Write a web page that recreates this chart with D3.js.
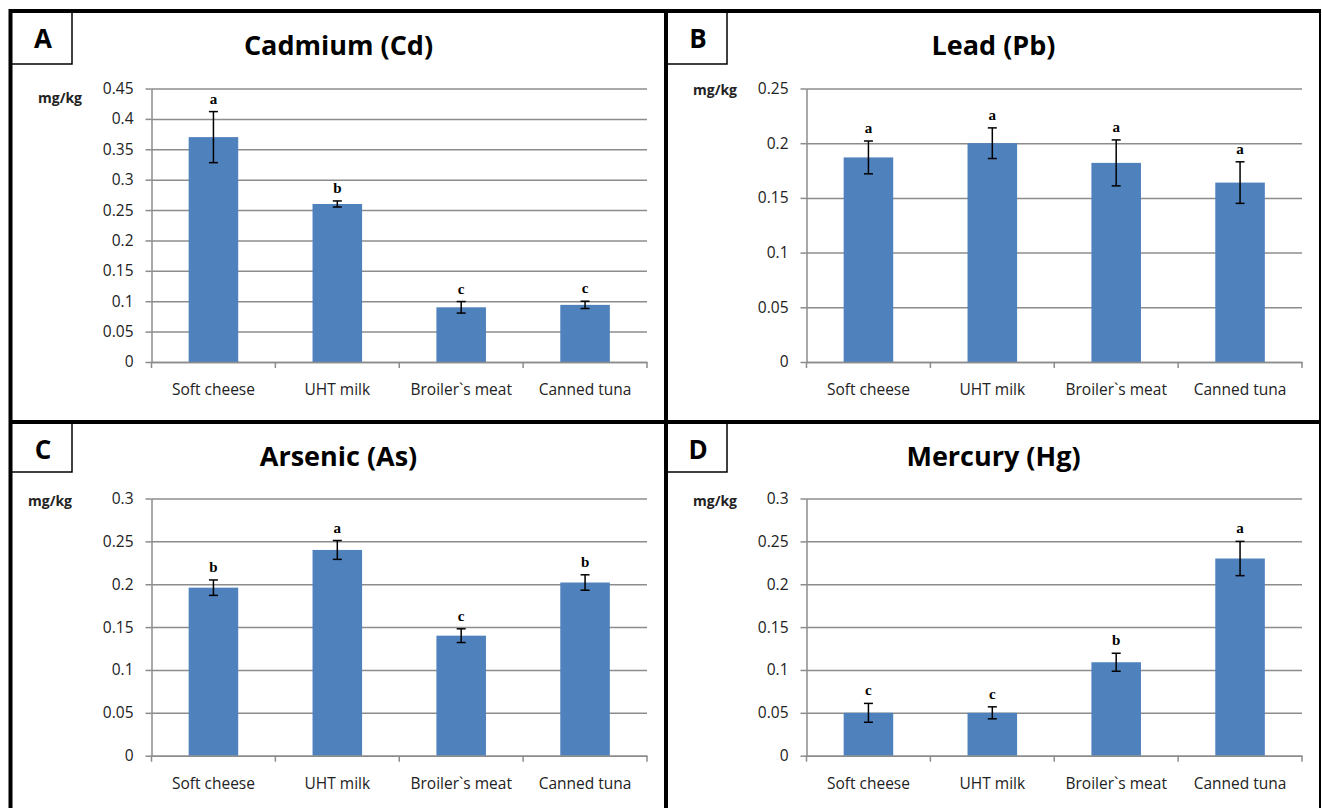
<!DOCTYPE html>
<html>
<head>
<meta charset="utf-8">
<script src="https://cdn.jsdelivr.net/npm/d3@7"></script>
<style>
  body { margin: 0; background: #fff; }
  svg { display: block; font-family: "Open Sans", sans-serif; }
</style>
</head>
<body>
<div id="chart"></div>
<script>
// categories shared by all four panels
const categories = ["Soft cheese", "UHT milk", "Broiler`s meat", "Canned tuna"];

// A - Cadmium
const cdMeans = [0.37, 0.26, 0.09, 0.094];
const cdErrors = [0.042, 0.005, 0.0095, 0.006];
const cdLetters = ["a", "b", "c", "c"];

// B - Lead
const pbMeans = [0.187, 0.2, 0.182, 0.164];
const pbErrors = [0.015, 0.014, 0.021, 0.019];
const pbLetters = ["a", "a", "a", "a"];

// C - Arsenic
const asMeans = [0.196, 0.24, 0.14, 0.202];
const asErrors = [0.009, 0.011, 0.008, 0.009];
const asLetters = ["b", "a", "c", "b"];

// D - Mercury
const hgMeans = [0.05, 0.05, 0.109, 0.23];
const hgErrors = [0.011, 0.007, 0.0105, 0.02];
const hgLetters = ["c", "c", "b", "a"];

// y axis tick labels per panel
const cdTicks = [0, 0.05, 0.1, 0.15, 0.2, 0.25, 0.3, 0.35, 0.4, 0.45];
const pbTicks = [0, 0.05, 0.1, 0.15, 0.2, 0.25];
const asTicks = [0, 0.05, 0.1, 0.15, 0.2, 0.25, 0.3];
const hgTicks = [0, 0.05, 0.1, 0.15, 0.2, 0.25, 0.3];

const width = 1322, height = 808;
const barColor = "#4f81bd", gridColor = "#8c8c8c";

const svg = d3.select("#chart").append("svg")
  .attr("width", width)
  .attr("height", height);

// panel layout (dx = horizontal offset, rows share plot top/bottom)
const panels = [
  { label: "A", title: "Cadmium (Cd)", means: cdMeans, errors: cdErrors, letters: cdLetters, ticks: cdTicks,
    dx: 0, boxTop: 11, boxBottom: 64, titleY: 55, plotTop: 88.5, plotBottom: 362, unitX: 38, unitY: 103 },
  { label: "B", title: "Lead (Pb)", means: pbMeans, errors: pbErrors, letters: pbLetters, ticks: pbTicks,
    dx: 655, boxTop: 11, boxBottom: 64, titleY: 55, plotTop: 88.5, plotBottom: 362, unitX: 38, unitY: 95 },
  { label: "C", title: "Arsenic (As)", means: asMeans, errors: asErrors, letters: asLetters, ticks: asTicks,
    dx: 0, boxTop: 422, boxBottom: 472, titleY: 466, plotTop: 498.5, plotBottom: 755.7, unitX: 28, unitY: 506 },
  { label: "D", title: "Mercury (Hg)", means: hgMeans, errors: hgErrors, letters: hgLetters, ticks: hgTicks,
    dx: 655, boxTop: 422, boxBottom: 472, titleY: 466, plotTop: 498.5, plotBottom: 755.7, unitX: 38, unitY: 506 }
];

panels.forEach(p => {
  const g = svg.append("g").attr("transform", `translate(${p.dx},0)`);
  const left = 151.5, right = 647;

  const x = d3.scaleBand().domain(categories).range([left, right]).padding(0);
  const y = d3.scaleLinear().domain([0, d3.max(p.ticks)]).range([p.plotBottom, p.plotTop]);

  // label box
  g.append("rect")
    .attr("x", 11).attr("y", p.boxTop)
    .attr("width", 61).attr("height", p.boxBottom - p.boxTop)
    .attr("fill", "none").attr("stroke", "#000").attr("stroke-width", 1.5);
  g.append("text")
    .attr("x", 43).attr("y", p.boxTop + 37)
    .attr("text-anchor", "middle")
    .attr("font-size", 26).attr("font-weight", 700)
    .text(p.label);

  // title
  g.append("text")
    .attr("x", 338.5).attr("y", p.titleY)
    .attr("text-anchor", "middle")
    .attr("font-size", 27).attr("font-weight", 700)
    .text(p.title);

  // unit label
  g.append("text")
    .attr("x", p.unitX).attr("y", p.unitY)
    .attr("font-size", 14).attr("font-weight", 700).attr("fill", "#222")
    .text("mg/kg");

  // gridlines
  g.append("g")
    .attr("transform", `translate(${left},0)`)
    .call(d3.axisLeft(y).tickValues(p.ticks).tickSize(-(right - left)).tickFormat(""))
    .call(a => a.select(".domain").remove())
    .call(a => a.selectAll("line").attr("stroke", gridColor).attr("stroke-width", 1.5));

  // y axis
  g.append("g")
    .attr("transform", `translate(${left},0)`)
    .call(d3.axisLeft(y).tickValues(p.ticks).tickSize(6).tickSizeOuter(0).tickPadding(12)
      .tickFormat(d => String(+d.toFixed(2))))
    .call(a => a.select(".domain").attr("stroke", gridColor).attr("stroke-width", 1.5))
    .call(a => a.selectAll("line").attr("stroke", gridColor).attr("stroke-width", 1.5))
    .call(a => a.selectAll("text").attr("font-family", "Open Sans").attr("font-size", 15.5).attr("fill", "#222"));

  // bars
  g.selectAll("rect.bar")
    .data(categories)
    .join("rect")
    .attr("class", "bar")
    .attr("x", d => x(d) + x.bandwidth() * 0.3)
    .attr("width", x.bandwidth() * 0.4)
    .attr("y", (d, i) => y(p.means[i]))
    .attr("height", (d, i) => y(0) - y(p.means[i]))
    .attr("fill", barColor);

  // x axis
  g.append("g")
    .attr("transform", `translate(0,${p.plotBottom})`)
    .call(d3.axisBottom(x).tickSize(0).tickSizeOuter(0).tickPadding(22))
    .call(a => a.select(".domain").attr("stroke", gridColor).attr("stroke-width", 1.5))
    .call(a => a.selectAll("text").attr("font-family", "Open Sans").attr("font-size", 15.5).attr("fill", "#222"));

  // boundary ticks on x axis
  g.selectAll("line.xtick")
    .data(categories.map(c => x(c)).concat([right]))
    .join("line")
    .attr("class", "xtick")
    .attr("x1", d => d).attr("x2", d => d)
    .attr("y1", p.plotBottom).attr("y2", p.plotBottom + 6)
    .attr("stroke", gridColor).attr("stroke-width", 1.5);

  // error bars
  const err = g.selectAll("g.err")
    .data(categories)
    .join("g")
    .attr("class", "err")
    .attr("stroke", "#000").attr("stroke-width", 1.5);
  err.append("line")
    .attr("x1", d => x(d) + x.bandwidth() / 2).attr("x2", d => x(d) + x.bandwidth() / 2)
    .attr("y1", (d, i) => y(p.means[i] + p.errors[i]))
    .attr("y2", (d, i) => y(p.means[i] - p.errors[i]));
  [1, -1].forEach(s => {
    err.append("line")
      .attr("x1", d => x(d) + x.bandwidth() / 2 - 4.5).attr("x2", d => x(d) + x.bandwidth() / 2 + 4.5)
      .attr("y1", (d, i) => y(p.means[i] + s * p.errors[i]))
      .attr("y2", (d, i) => y(p.means[i] + s * p.errors[i]));
  });

  // significance letters
  g.selectAll("text.sig")
    .data(categories)
    .join("text")
    .attr("class", "sig")
    .attr("x", d => x(d) + x.bandwidth() / 2)
    .attr("y", (d, i) => y(p.means[i] + p.errors[i]) - 8)
    .attr("text-anchor", "middle")
    .attr("font-family", "Liberation Serif, serif")
    .attr("font-size", 15).attr("font-weight", 700)
    .text((d, i) => p.letters[i]);
});

// outer frame and dividers
const frame = [
  { x1: 9, y1: 11, x2: 1321, y2: 11, w: 4 },
  { x1: 10.5, y1: 9, x2: 10.5, y2: 808, w: 4 },
  { x1: 1320, y1: 11, x2: 1320, y2: 808, w: 2 },
  { x1: 666, y1: 11, x2: 666, y2: 808, w: 4 },
  { x1: 9, y1: 422, x2: 1321, y2: 422, w: 4 }
];
svg.selectAll("line.frame")
  .data(frame)
  .join("line")
  .attr("class", "frame")
  .attr("x1", d => d.x1).attr("y1", d => d.y1)
  .attr("x2", d => d.x2).attr("y2", d => d.y2)
  .attr("stroke", "#000").attr("stroke-width", d => d.w);
</script>
</body>
</html>
